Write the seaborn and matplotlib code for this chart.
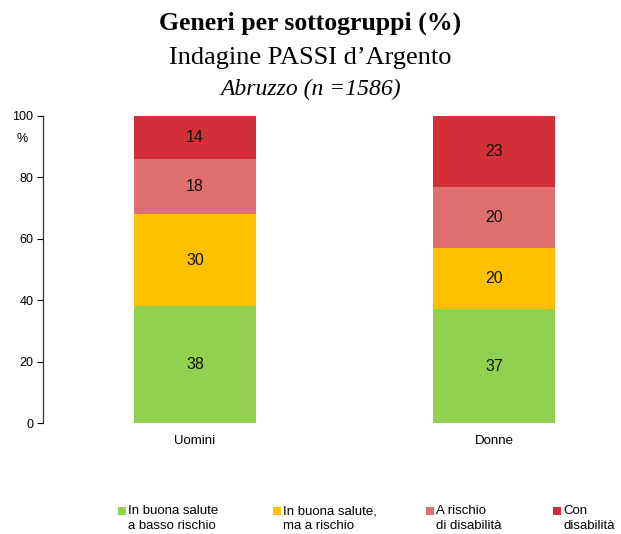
import pandas as pd
import matplotlib.pyplot as plt
import seaborn as sns
from matplotlib.patches import Rectangle

genders = ["Uomini", "Donne"]
groups = ["In buona salute\na basso rischio",
          "In buona salute,\nma a rischio",
          "A rischio\ndi disabilità",
          "Con\ndisabilità"]
buona_basso = [38, 37]
buona_rischio = [30, 20]
rischio_dis = [18, 20]
con_dis = [14, 23]
colors = ["#92D050", "#FFC000", "#E07070", "#D32F38"]

series = [buona_basso, buona_rischio, rischio_dis, con_dis]

sns.set_style("white")
plt.rcParams["font.family"] = ["Liberation Sans", "DejaVu Sans"]
plt.rcParams["text.color"] = "black"
plt.rcParams["xtick.color"] = "black"
plt.rcParams["ytick.color"] = "black"

fig = plt.figure(figsize=(6.21, 5.34), dpi=100)
ax = fig.add_axes([43 / 621, 1 - 423 / 534, (612 - 43) / 621, 307 / 534])

# cumulative tops, drawn from the top layer down so lower layers cover upper ones
tops = []
run = [0, 0]
for s in series:
    run = [a + b for a, b in zip(run, s)]
    tops.append(run)

for i in range(len(series) - 1, -1, -1):
    df = pd.DataFrame({"genere": genders, "valore": tops[i]})
    sns.barplot(data=df, x="genere", y="valore", color=colors[i], width=0.41,
                saturation=1, ax=ax, edgecolor="none", linewidth=0)

for i, s in enumerate(series):
    for j, v in enumerate(s):
        mid = tops[i][j] - v / 2
        ax.text(j, mid, str(v), ha="center", va="center", fontsize=11.5, color="#111111")

ax.set_xlim(-0.508, 1.395)
ax.set_ylim(0, 100)
ax.set_yticks(range(0, 101, 20))
ax.tick_params(axis="y", length=4, direction="out", left=True, labelsize=9, pad=3)
ax.tick_params(axis="x", length=0, labelsize=9.5, pad=9)
ax.set_xlabel("")
ax.set_ylabel("")
for side in ["top", "right", "bottom"]:
    ax.spines[side].set_visible(False)
ax.spines["left"].set_color("#333333")
ax.spines["left"].set_linewidth(0.9)

fig.text(22 / 621, 1 - 139 / 534, "%", ha="center", va="center", fontsize=9)

fig.text(0.5, 1 - 23 / 534, "Generi per sottogruppi (%)", ha="center", va="center",
         fontsize=18.5, fontweight="bold", family="Liberation Serif")
fig.text(0.5, 1 - 58 / 534, "Indagine PASSI d\u2019Argento", ha="center", va="center",
         fontsize=19, family="Liberation Serif")
fig.text(0.5, 1 - 89 / 534, "Abruzzo (n =1586)", ha="center", va="center",
         fontsize=17, style="italic", family="Liberation Serif")

# legend
leg_x = [118, 273, 426, 553]
for x, lab, c in zip(leg_x, groups, colors):
    fig.add_artist(Rectangle((x / 621, 1 - 515 / 534), 8 / 621, 8 / 534,
                             transform=fig.transFigure, color=c, lw=0))
    fig.text((x + 10) / 621, 1 - 505 / 534, lab, ha="left", va="top",
             fontsize=9.5, linespacing=1.35)

fig.savefig("out.png", dpi=100)
